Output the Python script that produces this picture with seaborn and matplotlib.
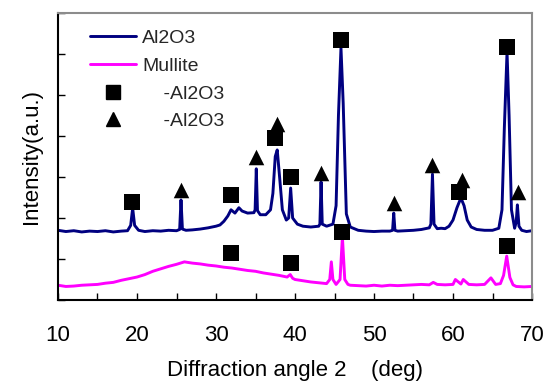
import numpy as np
import pandas as pd
import matplotlib
matplotlib.use("Agg")
import matplotlib.pyplot as plt
import seaborn as sns
from matplotlib.lines import Line2D

# ---- data ----
al_x = [10, 11, 12, 13, 14, 15, 16, 17, 18, 18.8, 19.2, 19.45, 19.7, 20.2, 21, 22, 23, 24, 25, 25.4,
        25.57, 25.75, 26.2, 27, 28, 29, 30, 30.5, 31, 31.5, 31.9, 32.4, 32.9, 33.3, 34, 34.8, 34.95,
        35.1, 35.25, 35.6, 36.3, 36.9, 37.2, 37.5, 37.75, 38.05, 38.4, 38.9, 39.2, 39.45, 39.7, 40.3,
        41, 42, 43, 43.15, 43.3, 43.45, 44, 44.8, 45.2, 45.5, 45.82, 46.1, 46.5, 47, 48, 49, 50, 51, 52,
        52.35, 52.5, 52.65, 53, 54, 55, 56, 57, 57.2, 57.4, 57.6, 58, 58.5, 59, 59.5, 60, 60.5, 61.0,
        61.4, 61.8, 62.3, 63, 64, 65, 65.8, 66.2, 66.5, 66.84, 67.1, 67.4, 67.8, 68.0, 68.15, 68.35,
        68.7, 69.3, 70]
al_y = [1.70, 1.67, 1.69, 1.66, 1.68, 1.67, 1.69, 1.66, 1.68, 1.69, 1.82, 2.24, 1.82, 1.70, 1.67, 1.69,
        1.68, 1.70, 1.69, 1.72, 2.44, 1.73, 1.70, 1.71, 1.73, 1.76, 1.80, 1.83, 1.92, 2.05, 2.20, 2.12,
        2.25, 2.17, 2.12, 2.13, 2.20, 3.20, 2.18, 2.08, 2.08, 2.20, 2.60, 3.50, 3.66, 3.00, 2.20, 1.95,
        2.00, 2.73, 2.00, 1.85, 1.80, 1.78, 1.80, 1.85, 2.88, 1.85, 1.80, 1.85, 2.30, 4.50, 6.15, 4.80,
        2.10, 1.78, 1.70, 1.68, 1.67, 1.68, 1.68, 1.70, 2.12, 1.70, 1.68, 1.69, 1.70, 1.72, 1.76, 1.85,
        3.07, 1.85, 1.74, 1.75, 1.74, 1.80, 1.95, 2.25, 2.49, 2.30, 1.95, 1.78, 1.72, 1.70, 1.70, 1.75,
        2.20, 4.20, 6.05, 4.50, 2.20, 1.75, 1.90, 2.32, 1.80, 1.70, 1.67, 1.69]

mu_x = [10, 11, 12, 13, 14, 15, 16, 17, 18, 19, 20, 21, 22, 23, 24, 25, 26, 27, 28, 29, 30, 31, 32,
        33, 34, 35, 36, 37, 38, 39, 39.4, 39.7, 40, 41, 42, 43, 44, 44.4, 44.6, 44.8, 45.2, 45.7, 46.0,
        46.3, 46.7, 47, 48, 49, 50, 51, 52, 53, 54, 55, 56, 57, 57.5, 58, 59, 60, 60.3, 61, 61.3, 62,
        63, 64, 64.8, 65.4, 66, 66.4, 66.8, 67.2, 67.6, 68, 69, 70]
mu_y = [0.36, 0.33, 0.34, 0.36, 0.37, 0.38, 0.41, 0.43, 0.48, 0.52, 0.56, 0.62, 0.70, 0.76, 0.82, 0.87,
        0.93, 0.90, 0.88, 0.85, 0.83, 0.80, 0.78, 0.75, 0.72, 0.70, 0.66, 0.63, 0.60, 0.56, 0.62, 0.53,
        0.50, 0.47, 0.44, 0.42, 0.40, 0.50, 0.93, 0.50, 0.38, 0.50, 1.54, 0.50, 0.38, 0.36, 0.35, 0.34,
        0.36, 0.34, 0.36, 0.35, 0.36, 0.37, 0.38, 0.37, 0.43, 0.38, 0.37, 0.38, 0.50, 0.39, 0.50, 0.38,
        0.37, 0.38, 0.54, 0.38, 0.40, 0.60, 1.07, 0.55, 0.37, 0.33, 0.32, 0.33]

sq_x = [19.4, 31.9, 37.5, 39.5, 45.8, 60.8, 66.8, 31.9, 39.5, 45.9, 66.8]
sq_y = [2.39, 2.56, 3.95, 3.00, 6.34, 2.63, 6.17, 1.15, 0.90, 1.66, 1.32]
tri_x = [25.6, 35.1, 37.7, 43.3, 52.5, 57.4, 61.2, 68.2]
tri_y = [2.68, 3.49, 4.29, 3.10, 2.37, 3.29, 2.93, 2.63]

series_names = ["Al2O3", "Mullite"]
marker_labels = ["    -Al2O3", "    -Al2O3"]
x_ticks = [10, 20, 30, 40, 50, 60, 70]
x_label = "Diffraction angle 2    (deg)"
y_label = "Intensity(a.u.)"

# ---- plot ----
sns.set_theme(style="ticks")
plt.rcParams["font.family"] = ["Liberation Sans", "DejaVu Sans"]

fig = plt.figure(figsize=(5.46, 3.81), dpi=100)
ax = fig.add_axes([58 / 546, 1 - 300 / 381, (532 - 58) / 546, (300 - 13) / 381])

df_al = pd.DataFrame({"x": al_x, "y": al_y})
df_mu = pd.DataFrame({"x": mu_x, "y": mu_y})
sns.lineplot(data=df_al, x="x", y="y", ax=ax, color="#000080", lw=2.1, sort=False)
sns.lineplot(data=df_mu, x="x", y="y", ax=ax, color="#FF00FF", lw=2.1, sort=False)
sns.scatterplot(x=sq_x, y=sq_y, ax=ax, marker="s", s=125, color="black", edgecolor="black",
                linewidth=0, zorder=5)
sns.scatterplot(x=tri_x, y=tri_y, ax=ax, marker="^", s=125, color="black", edgecolor="black",
                linewidth=0, zorder=5)

ax.set_xlim(10, 70)
ax.set_ylim(0, 7)
ax.set_xticks(np.arange(10, 71, 5))
ax.set_xticklabels([str(t) if t in x_ticks else "" for t in np.arange(10, 71, 5)])
ax.set_yticks(np.arange(0, 8, 1))
ax.set_yticklabels([])
ax.tick_params(axis="x", direction="in", length=5, width=1.0, labelsize=16, pad=18, color="black",
               labelcolor="black")
ax.tick_params(axis="y", direction="in", length=5, width=1.0, color="black")
ax.set_xlabel(x_label, fontsize=16, labelpad=10, color="black")
ax.set_ylabel(y_label, fontsize=16, labelpad=8, color="black")

for side in ["left", "bottom"]:
    ax.spines[side].set_color("black")
    ax.spines[side].set_linewidth(1.5)
for side in ["top", "right"]:
    ax.spines[side].set_visible(True)
    ax.spines[side].set_color("#8c8c8c")
    ax.spines[side].set_linewidth(1.5)

handles = [
    Line2D([], [], color="#000080", lw=2.1),
    Line2D([], [], color="#FF00FF", lw=2.1),
    Line2D([], [], color="black", marker="s", ls="none", markersize=10.5),
    Line2D([], [], color="black", marker="^", ls="none", markersize=10.5),
]
ax.legend(handles, series_names + marker_labels, loc="upper left", frameon=False, fontsize=14,
          handlelength=2.4, handletextpad=0.3, labelspacing=0.52, borderaxespad=0.3,
          bbox_to_anchor=(0.038, 0.99))

fig.savefig("out.png", dpi=100)
